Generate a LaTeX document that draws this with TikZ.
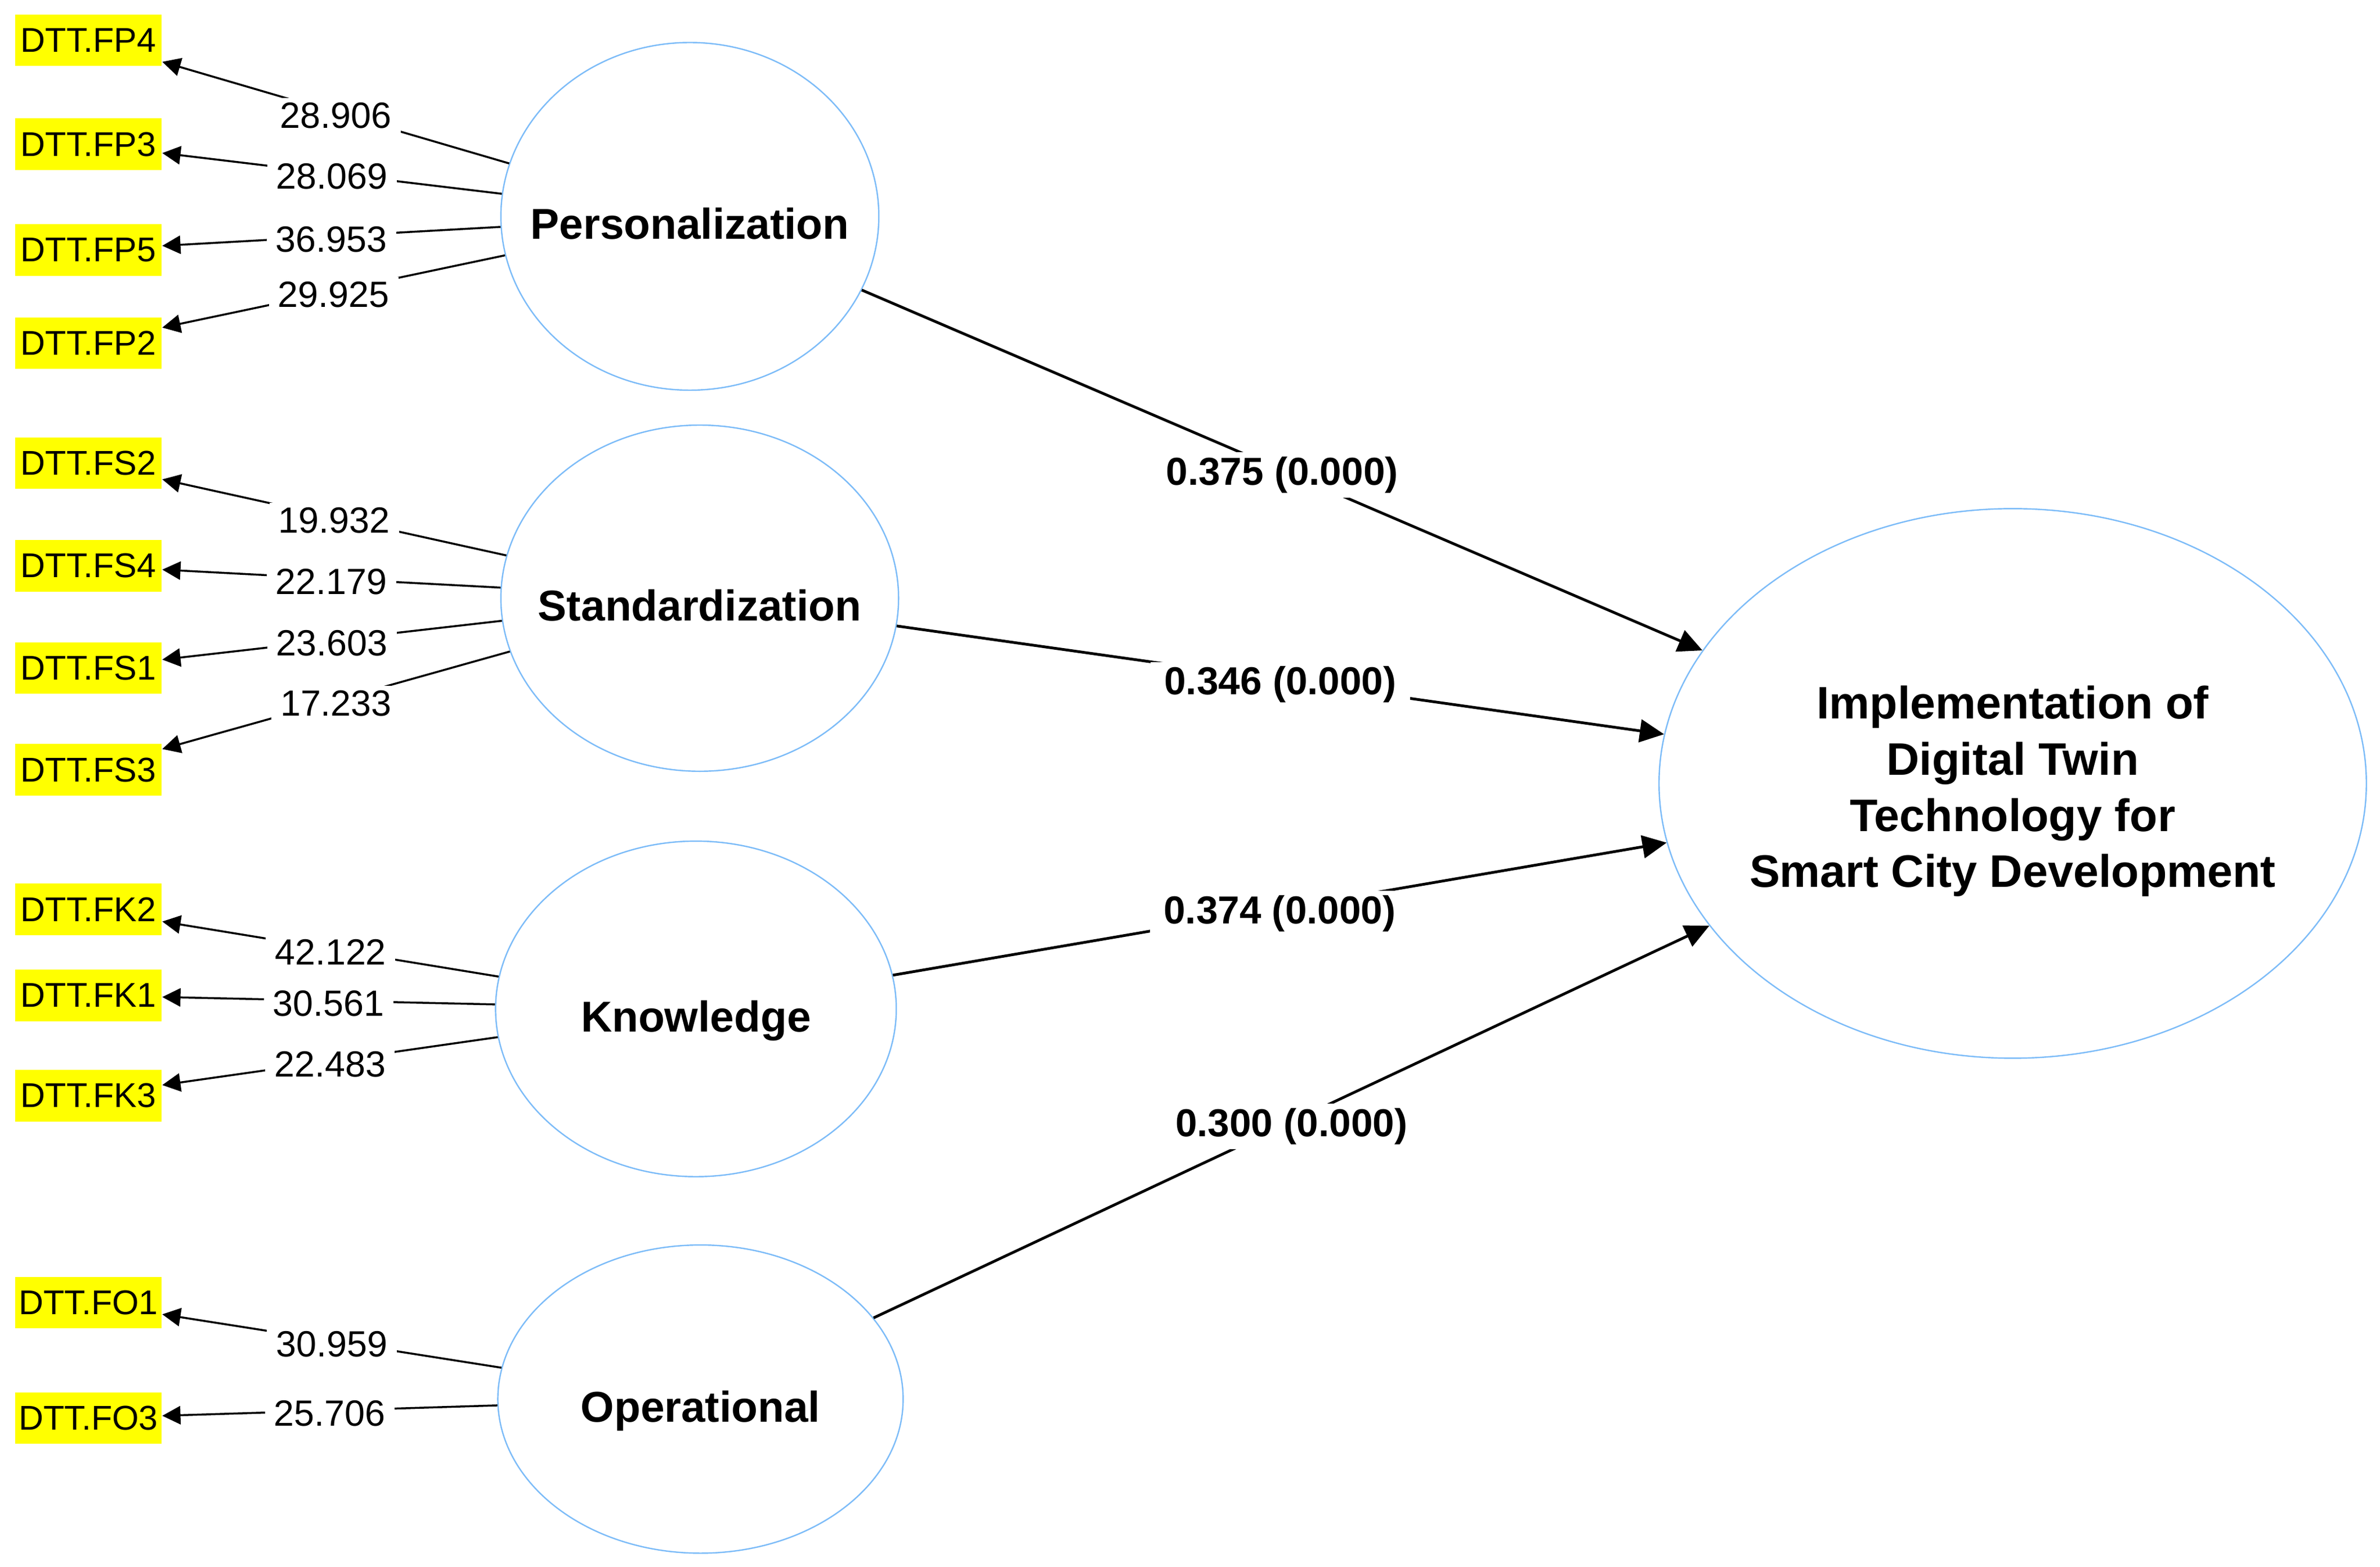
\documentclass[tikz,border=0pt]{standalone}
\usepackage{fontspec}
\setmainfont{Liberation Sans}
\usetikzlibrary{shapes.geometric,arrows.meta}
\definecolor{ellblue}{RGB}{125,188,248}
\definecolor{indyellow}{RGB}{255,255,0}
\begin{document}
\begin{tikzpicture}[x=0.5pt,y=-0.5pt,
  latent/.style={ellipse, draw=ellblue, line width=0.45pt, fill=white, inner xsep=-40pt, inner ysep=0pt,
    font=\fontsize{14.2pt}{17pt}\selectfont\bfseries, text height=15pt, text depth=0pt},
  target/.style={ellipse, draw=ellblue, line width=0.45pt, fill=white, inner xsep=-40pt, inner ysep=0pt,
    align=center, font=\fontsize{15pt}{18.5pt}\selectfont\bfseries},
  indic/.style={rectangle, fill=indyellow, inner sep=0pt, minimum width=48.25pt, minimum height=17pt,
    font=\fontsize{11.3pt}{13pt}\selectfont},
  load/.style={line width=0.65pt, -{Triangle[length=6pt,width=6pt]}},
  loadlab/.style={fill=white, inner xsep=3pt, inner ysep=1.5pt, yshift=-1pt, font=\fontsize{12pt}{14pt}\selectfont},
  structpath/.style={line width=0.9pt, -{Triangle[length=8pt,width=7.5pt]}},
  pathlab/.style={fill=white, inner xsep=4.5pt, inner ysep=1.5pt, yshift=-1.5pt, font=\fontsize{12.85pt}{15pt}\selectfont\bfseries}
]
\fill[white] (0,0) rectangle (1568,1032);
\useasboundingbox (0,0) rectangle (1568,1032);

% latent variables
\node[latent, minimum width=124.5pt, minimum height=114.5pt] (P) at (454.5,142.5) {Personalization};
\node[latent, minimum width=131pt, minimum height=114pt] (S) at (461,394) {Standardization};
\node[latent, minimum width=132pt, minimum height=110.5pt] (K) at (458.5,664.5) {Knowledge};
\node[latent, minimum width=133.5pt, minimum height=101.5pt] (O) at (461.5,921.5) {Operational};
\node[target, minimum width=233pt, minimum height=181pt] (I) at (1326,516)
  {\rule{0pt}{16pt}Implementation of\\Digital Twin\\Technology for\\Smart City Development};

% indicators
\node[indic] (fp4) at (58.25,26.5) {DTT.FP4};
\node[indic] (fp3) at (58.25,95) {DTT.FP3};
\node[indic] (fp5) at (58.25,164.6) {DTT.FP5};
\node[indic] (fp2) at (58.25,226) {DTT.FP2};
\node[indic] (fs2) at (58.25,305) {DTT.FS2};
\node[indic] (fs4) at (58.25,372.6) {DTT.FS4};
\node[indic] (fs1) at (58.25,440) {DTT.FS1};
\node[indic] (fs3) at (58.25,507) {DTT.FS3};
\node[indic] (fk2) at (58.25,599) {DTT.FK2};
\node[indic] (fk1) at (58.25,655.6) {DTT.FK1};
\node[indic] (fk3) at (58.25,721.6) {DTT.FK3};
\node[indic] (fo1) at (58.25,858) {DTT.FO1};
\node[indic] (fo3) at (58.25,934) {DTT.FO3};

% loadings
\draw[load] (P) -- node[loadlab, midway] (l1) {28.906} (fp4);
\draw[load] (P) -- node[loadlab, midway] (l2) {28.069} (fp3);
\draw[load] (P) -- node[loadlab, midway] (l3) {36.953} (fp5);
\draw[load] (P) -- node[loadlab, midway] (l4) {29.925} (fp2);
\draw[load] (S) -- node[loadlab, midway] (l5) {19.932} (fs2);
\draw[load] (S) -- node[loadlab, midway] (l6) {22.179} (fs4);
\draw[load] (S) -- node[loadlab, midway] (l7) {23.603} (fs1);
\draw[load] (S) -- node[loadlab, midway] (l8) {17.233} (fs3);
\draw[load] (K) -- node[loadlab, midway] (l9) {42.122} (fk2);
\draw[load] (K) -- node[loadlab, midway] (l10) {30.561} (fk1);
\draw[load] (K) -- node[loadlab, midway] (l11) {22.483} (fk3);
\draw[load] (O) -- node[loadlab, midway] (l12) {30.959} (fo1);
\draw[load] (O) -- node[loadlab, midway] (l13) {25.706} (fo3);

% structural paths
\draw[structpath] (P) -- node[pathlab, midway] (p1) {0.375 (0.000)} (I);
\draw[structpath] (S) -- node[pathlab, midway] (p2) {0.346 (0.000)} (I);
\draw[structpath] (K) -- node[pathlab, midway] (p3) {0.374 (0.000)} (I);
\draw[structpath] (O) -- node[pathlab, midway] (p4) {0.300 (0.000)} (I);
\end{tikzpicture}
\end{document}
